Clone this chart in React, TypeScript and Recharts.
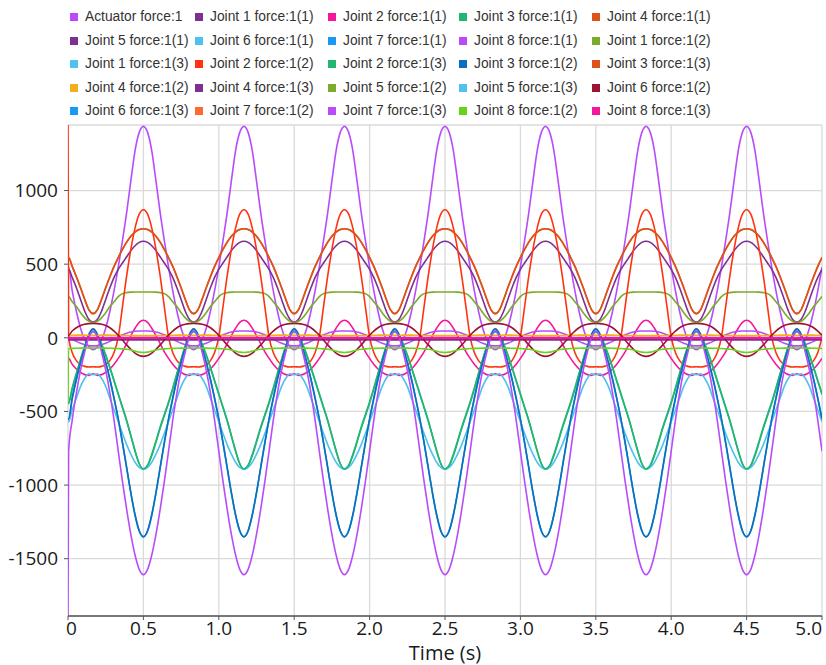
import React from 'react';
import { LineChart, Line, XAxis, YAxis, CartesianGrid, Legend, Label } from 'recharts';

// ---- series identity ----
const seriesKeys = [
  'actuator', 'j1f11', 'j2f11', 'j3f11', 'j4f11',
  'j5f11', 'j6f11', 'j7f11', 'j8f11', 'j1f12',
  'j1f13', 'j2f12', 'j2f13', 'j3f12', 'j3f13',
  'j4f12', 'j4f13', 'j5f12', 'j5f13', 'j6f12',
  'j6f13', 'j7f12', 'j7f13', 'j8f12', 'j8f13',
];
const seriesNames = [
  'Actuator force:1', 'Joint 1 force:1(1)', 'Joint 2 force:1(1)', 'Joint 3 force:1(1)', 'Joint 4 force:1(1)',
  'Joint 5 force:1(1)', 'Joint 6 force:1(1)', 'Joint 7 force:1(1)', 'Joint 8 force:1(1)', 'Joint 1 force:1(2)',
  'Joint 1 force:1(3)', 'Joint 2 force:1(2)', 'Joint 2 force:1(3)', 'Joint 3 force:1(2)', 'Joint 3 force:1(3)',
  'Joint 4 force:1(2)', 'Joint 4 force:1(3)', 'Joint 5 force:1(2)', 'Joint 5 force:1(3)', 'Joint 6 force:1(2)',
  'Joint 6 force:1(3)', 'Joint 7 force:1(2)', 'Joint 7 force:1(3)', 'Joint 8 force:1(2)', 'Joint 8 force:1(3)',
];
const seriesColors = [
  '#b84cfb', '#7d3090', '#f5179a', '#23b574', '#dd5319',
  '#7d3090', '#4fc1ef', '#1a98f3', '#b84cfb', '#7aab2c',
  '#4fc1ef', '#ff3311', '#23b574', '#0a70bb', '#dd5319',
  '#efb01a', '#7d3090', '#7aab2c', '#4fc1ef', '#9e1234',
  '#1a98f3', '#ff6a30', '#b84cfb', '#66d418', '#f5179a',
];

// ---- one period (24 samples, 1/36 s apart, starting at t = 1/6 s) ----
const actuator = [-80, -62, -15, 65, 180, 320, 480, 660, 850, 1065, 1270, 1395, 1436, 1395, 1270, 1065, 850, 660, 480, 320, 180, 65, -15, -62];
const j1f11 = [107, 125, 180, 260, 340, 410, 465, 508, 550, 592, 625, 648, 656, 648, 625, 592, 550, 508, 465, 410, 340, 260, 180, 125];
const j2f11 = [-245, -255, -250, -235, -212, -180, -140, -95, -40, 15, 65, 105, 119, 105, 65, 15, -40, -95, -140, -180, -212, -235, -250, -255];
const j3f11 = [40, 15, -45, -120, -205, -295, -385, -475, -565, -665, -765, -855, -893, -870, -800, -710, -615, -530, -445, -350, -250, -150, -60, 10];
const j4f11 = [164, 190, 260, 340, 415, 485, 545, 600, 650, 690, 718, 735, 741, 735, 718, 690, 650, 600, 545, 485, 415, 340, 260, 190];
const j5f11 = [0, 0, 0, 0, 0, 0, 0, 0, 0, 0, 0, 0, 0, 0, 0, 0, 0, 0, 0, 0, 0, 0, 0, 0];
const j6f11 = [0, 0, 0, 0, 0, 0, 0, 0, 0, 0, 0, 0, 0, 0, 0, 0, 0, 0, 0, 0, 0, 0, 0, 0];
const j7f11 = [55, 20, -70, -170, -285, -415, -555, -715, -885, -1055, -1205, -1312, -1350, -1312, -1205, -1055, -885, -715, -555, -415, -285, -170, -70, 20];
const j8f11 = [-55, -53, -47, -37, -24, -8, 7, 20, 31, 39, 44, 46, 46, 46, 44, 39, 31, 20, 7, -8, -24, -37, -47, -53];
const j1f12 = [103, 112, 135, 170, 212, 245, 280, 300, 307, 310, 311, 311, 311, 311, 311, 310, 307, 300, 280, 245, 212, 170, 135, 112];
const j1f13 = [-250, -244, -275, -330, -410, -490, -570, -650, -725, -790, -845, -880, -893, -880, -845, -790, -725, -650, -570, -490, -410, -330, -275, -244];
const j2f12 = [-197, -198, -194, -182, -155, -100, 5, 210, 420, 600, 745, 840, 870, 840, 745, 600, 420, 210, 5, -100, -155, -182, -194, -198];
const j2f13 = [45, 18, -40, -115, -200, -290, -380, -470, -560, -665, -770, -855, -890, -865, -790, -700, -605, -520, -435, -340, -240, -145, -55, 12];
const j3f12 = [62, 25, -65, -165, -280, -410, -550, -710, -880, -1050, -1200, -1310, -1352, -1310, -1200, -1050, -880, -710, -550, -410, -280, -165, -65, 25];
const j3f13 = [164, 190, 260, 340, 415, 485, 545, 600, 650, 690, 718, 735, 741, 735, 718, 690, 650, 600, 545, 485, 415, 340, 260, 190];
const j4f12 = [17, 17, 18, 18, 18, 17, 17, 16, 16, 15, 15, 15, 15, 15, 15, 15, 16, 16, 17, 17, 18, 18, 18, 17];
const j4f13 = [-12, -12, -12, -12, -12, -12, -12, -12, -12, -12, -12, -12, -12, -12, -12, -12, -12, -12, -12, -12, -12, -12, -12, -12];
const j5f12 = [0, 0, 0, 0, 0, 0, 0, 0, 0, 0, 0, 0, 0, 0, 0, 0, 0, 0, 0, 0, 0, 0, 0, 0];
const j5f13 = [0, 0, 0, 0, 0, 0, 0, 0, 0, 0, 0, 0, 0, 0, 0, 0, 0, 0, 0, 0, 0, 0, 0, 0];
const j6f12 = [97, 96, 92, 83, 68, 46, 18, -15, -48, -78, -104, -120, -126, -120, -104, -78, -48, -15, 18, 46, 68, 83, 92, 96];
const j6f13 = [0, 0, 0, 0, 0, 0, 0, 0, 0, 0, 0, 0, 0, 0, 0, 0, 0, 0, 0, 0, 0, 0, 0, 0];
const j7f12 = [0, 0, 0, 0, 0, 0, 0, 0, 0, 0, 0, 0, 0, 0, 0, 0, 0, 0, 0, 0, 0, 0, 0, 0];
const j7f13 = [45, 5, -95, -220, -375, -560, -770, -975, -1165, -1335, -1475, -1572, -1608, -1572, -1475, -1335, -1165, -975, -770, -560, -375, -220, -95, 5];
const j8f12 = [-69, -69, -70, -70, -71, -72, -73, -75, -78, -83, -90, -97, -100, -97, -90, -83, -78, -75, -73, -72, -71, -70, -70, -69];
const j8f13 = [0, 0, 0, 0, 0, 0, 0, 0, 0, 0, 0, 0, 0, 0, 0, 0, 0, 0, 0, 0, 0, 0, 0, 0];

// start-up transients at t = 0 read from the left edge
const startSpikes: Record<string, number> = { j2f12: 1445, j7f13: -1889, j8f12: -440 };

const seriesPeriods = [
  actuator, j1f11, j2f11, j3f11, j4f11,
  j5f11, j6f11, j7f11, j8f11, j1f12,
  j1f13, j2f12, j2f13, j3f12, j3f13,
  j4f12, j4f13, j5f12, j5f13, j6f12,
  j6f13, j7f12, j7f13, j8f12, j8f13,
];

// ---- axes ----
const xTicks = [0, 0.5, 1, 1.5, 2, 2.5, 3, 3.5, 4, 4.5, 5];
const xTickLabels = ['0', '0.5', '1.0', '1.5', '2.0', '2.5', '3.0', '3.5', '4.0', '4.5', '5.0'];
const yTicks = [-1500, -1000, -500, 0, 500, 1000];
const yDomain = [-1889, 1445];

const SAMPLE_STEP = 1 / 36;
const SAMPLE_COUNT = 181;
const PERIOD_LEN = 24;
const PHASE_OFFSET = 6;

const chartRows: Record<string, number>[] = [];
{
  const first: Record<string, number> = { t: 0 };
  const idx0 = ((0 - PHASE_OFFSET) % PERIOD_LEN + PERIOD_LEN) % PERIOD_LEN;
  seriesKeys.forEach((k, s) => {
    first[k] = startSpikes[k] !== undefined ? startSpikes[k] : seriesPeriods[s][idx0];
  });
  chartRows.push(first);
  for (let n = 0; n < SAMPLE_COUNT; n++) {
    const row: Record<string, number> = { t: n === 0 ? 0.004 : n * SAMPLE_STEP };
    const idx = ((n - PHASE_OFFSET) % PERIOD_LEN + PERIOD_LEN) % PERIOD_LEN;
    seriesKeys.forEach((k, s) => {
      row[k] = seriesPeriods[s][idx];
    });
    chartRows.push(row);
  }
}

const lineWidths: Record<string, number> = { j4f13: 2.6, j8f13: 2.2 };

const legendCols = [70, 195, 328, 459, 592];
const legendRow0 = 17.3;
const legendRowStep = 23.4;

const renderLegend = () => (
  <div style={{ position: 'relative', width: 826, height: 125 }}>
    {seriesNames.map((name, i) => {
      const col = i % 5;
      const row = Math.floor(i / 5);
      const cy = legendRow0 + row * legendRowStep;
      const x = legendCols[col];
      return (
        <div key={name}>
          <div style={{ position: 'absolute', left: x, top: cy - 4, width: 8, height: 8, background: seriesColors[i] }} />
          <div
            style={{
              position: 'absolute', left: x + 15, top: cy - 9, height: 18, lineHeight: '18px',
              fontFamily: '"Liberation Sans", Arial, sans-serif', fontSize: 13.8, color: '#333', whiteSpace: 'nowrap',
            }}
          >
            {name}
          </div>
        </div>
      );
    })}
  </div>
);

const XTick = (props: any) => {
  const { x, y, payload } = props;
  const i = xTicks.indexOf(payload.value);
  const last = i === xTicks.length - 1;
  const anchor = i === 0 ? 'start' : last ? 'end' : 'middle';
  const dx = i === 0 ? -2 : 0;
  return (
    <text x={x + dx} y={y} dy="0.71em" textAnchor={anchor} fontSize={19} fontFamily="Open Sans" fill="#1a1a1a">
      {xTickLabels[i] ?? String(payload.value)}
    </text>
  );
};

export default function App() {
  return (
    <div style={{ position: 'absolute', left: 0, top: 0, width: 826, height: 665, background: '#fff' }}>
      <LineChart width={826} height={665} data={chartRows} margin={{ top: 0, right: 4, bottom: 0, left: 0 }}>
        <Legend
          verticalAlign="top"
          align="left"
          layout="horizontal"
          content={renderLegend}
          wrapperStyle={{ top: 0, left: 0, width: 826, height: 125 }}
        />
        <CartesianGrid stroke="#dadada" strokeWidth={1.3} />
        <XAxis
          dataKey="t"
          type="number"
          domain={[0, 5]}
          ticks={xTicks}
          interval={0}
          allowDataOverflow
          tick={<XTick />}
          tickSize={4}
          tickMargin={2}
          height={49}
          axisLine={{ stroke: '#555', strokeWidth: 1.5 }}
          tickLine={{ stroke: '#555' }}
        >
          <Label value="Time (s)" position="insideBottom" offset={5} style={{ fontSize: 20, fontFamily: 'Open Sans', fill: '#1a1a1a' }} />
        </XAxis>
        <XAxis
          xAxisId="top"
          orientation="top"
          dataKey="t"
          type="number"
          domain={[0, 5]}
          height={0}
          tick={false}
          tickLine={false}
          axisLine={{ stroke: '#555', strokeWidth: 1.5 }}
        />
        <YAxis
          type="number"
          domain={yDomain}
          ticks={yTicks}
          interval={0}
          allowDataOverflow
          width={68}
          tickSize={4}
          tickMargin={6}
          tick={{ fontSize: 19, fontFamily: 'Open Sans', fill: '#1a1a1a' }}
          axisLine={false}
          tickLine={{ stroke: '#555' }}
        />
        <YAxis
          yAxisId="right"
          orientation="right"
          type="number"
          domain={yDomain}
          width={0}
          tick={false}
          tickLine={false}
          axisLine={{ stroke: '#555', strokeWidth: 1.5 }}
        />
        {seriesKeys.map((k, i) => (
          <Line
            key={k}
            dataKey={k}
            name={seriesNames[i]}
            type="monotone"
            stroke={seriesColors[i]}
            strokeWidth={lineWidths[k] ?? 1.6}
            dot={false}
            activeDot={false}
            isAnimationActive={false}
          />
        ))}
      </LineChart>
    </div>
  );
}
